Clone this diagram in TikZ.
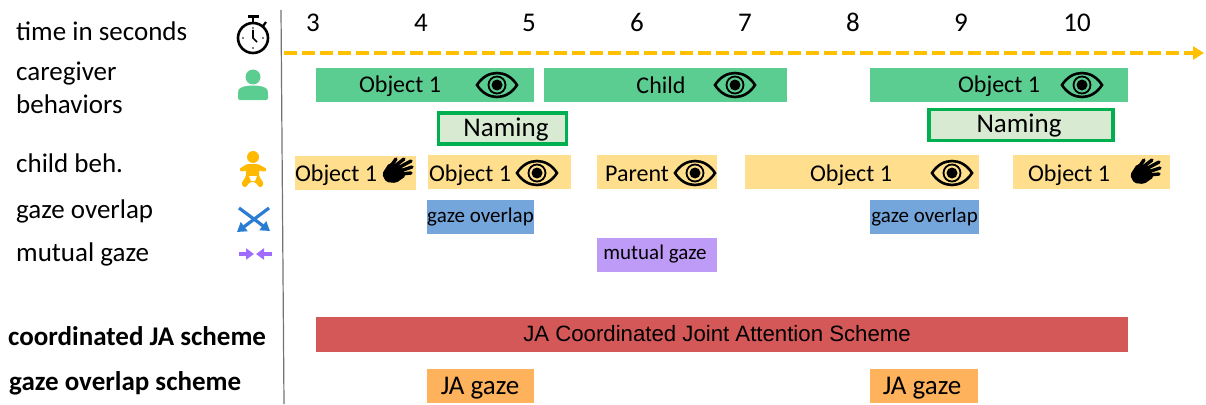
\documentclass[tikz,border=0pt]{standalone}
\usepackage{fontspec}
\setmainfont{Carlito}
\newfontfamily\arialfont{Liberation Sans}
\usetikzlibrary{arrows.meta}

\definecolor{caregreen}{HTML}{5BCD90}
\definecolor{namegreen}{HTML}{00B050}
\definecolor{namefill}{HTML}{D9EAD3}
\definecolor{childyellow}{HTML}{FFDF8E}
\definecolor{babyyellow}{HTML}{FFB900}
\definecolor{axisyellow}{HTML}{FFC000}
\definecolor{overlapblue}{HTML}{74A6DC}
\definecolor{crossblue}{HTML}{2B7CD3}
\definecolor{mutualpurple}{HTML}{BF9BF8}
\definecolor{arrowpurple}{HTML}{A06BFF}
\definecolor{schemered}{HTML}{D55858}
\definecolor{gazeorange}{HTML}{FFB25C}

\tikzset{
	bar/.style={anchor=west, inner sep=0pt, text depth=0pt, minimum height=34pt, align=center},
	rowlabel/.style={anchor=west, inner sep=0pt, font=\fontsize{27}{30}\selectfont, align=left},
	schemelabel/.style={anchor=west, inner sep=0pt, font=\fontsize{27}{30}\selectfont\bfseries},
	timetick/.style={inner sep=0pt, text height=17pt, text depth=0pt, font=\fontsize{27}{30}\selectfont},
	bartext/.style={inner sep=0pt, font=\fontsize{24}{27}\selectfont},
	nametext/.style={inner sep=0pt, font=\fontsize{27}{30}\selectfont},
	smalltext/.style={inner sep=0pt, font=\fontsize{21}{24}\selectfont},
	eye/.pic={
		\draw[line width=2.6pt, fill=none] (-20,0) .. controls (-10,-16) and (10,-16) .. (20,0) .. controls (10,16) and (-10,16) .. (-20,0) -- cycle;
		\draw[line width=1.8pt] (0,0) circle (8.5);
		\fill (0,0) circle (5.5);
	},
	hand/.pic={
		\fill[rounded corners=2pt] (-16,4) -- (-9,-7) -- (2,-6) -- (8,6) -- (-2,13) -- (-12,12) -- cycle;
		\draw[line width=3.4pt, line cap=round] (-7,-4) -- (-2,-11);
		\draw[line width=3.4pt, line cap=round] (-3,-4) -- (6,-11);
		\draw[line width=3.4pt, line cap=round] (0,-2) -- (13,-9);
		\draw[line width=3.4pt, line cap=round] (2,1) -- (14,-3);
		\draw[line width=3.4pt, line cap=round] (3,4) -- (13,3);
	},
}

\begin{document}
\begin{tikzpicture}[x=1pt, y=-1pt]
	\useasboundingbox (0,0) rectangle (1206,404);

	% row labels
	\node[rowlabel] (time) at (16,31) {time in seconds};
	\node[rowlabel] (caregiver) at (16,88) {caregiver\\[3pt]behaviors};
	\node[rowlabel] (child) at (16,163) {child beh.};
	\node[rowlabel] (overlap) at (16,211) {gaze overlap};
	\node[rowlabel] (mutual) at (16,254) {mutual gaze};
	\node[schemelabel] (coordinated) at (8,336) {coordinated JA scheme};
	\node[schemelabel] (gazescheme) at (9,383) {gaze overlap scheme};

	% time axis
	\coordinate (top) at (281,10);
	\coordinate (bottom) at (284,404);
	\draw[line width=1.2pt, black!55] (top) -- (bottom);
	\coordinate (axisstart) at (284,53);
	\coordinate (axisend) at (1204,53);
	\draw[axisyellow, line width=3.6pt, dash pattern=on 13pt off 5pt, -{Triangle[length=11pt,width=13pt]}] (axisstart) -- (axisend);

	\foreach \t/\x in {3/313,4/421,5/529,6/637,7/745,8/853,9/961,10/1077}
		\node[timetick] (t\t) at (\x,23) {\t};

	% caregiver
	\node[bar, fill=caregreen, minimum width=218pt] (care1) at (316,84.5) {};
	\node[bartext] (care1text) at (400,86) {Object 1};
	\node[bar, fill=caregreen, minimum width=243pt] (care2) at (544,84.5) {};
	\node[bartext] (care2text) at (661,85) {Child};
	\node[bar, fill=caregreen, minimum width=258pt] (care3) at (870,84.5) {};
	\node[bartext] (care3text) at (999,86) {Object 1};
	\pic at (497,85) {eye};
	\pic at (735,85) {eye};
	\pic at (1082,85) {eye};

	% naming
	\node[bar, fill=namefill, draw=namegreen, line width=3.5pt, minimum width=128pt, minimum height=31pt] (name1) at (436.5,128.5) {};
	\node[nametext] (name1text) at (506,130) {Naming};
	\node[bar, fill=namefill, draw=namegreen, line width=3.5pt, minimum width=184pt, minimum height=31pt] (name2) at (927,125) {};
	\node[nametext] (name2text) at (1019,126) {Naming};

	% child
	\node[bar, fill=childyellow, minimum width=121pt] (kid1) at (295,172.5) {};
	\node[bartext] (kid1text) at (336,175) {Object 1};
	\node[bar, fill=childyellow, minimum width=143pt] (kid2) at (428,172) {};
	\node[bartext] (kid2text) at (470,175) {Object 1};
	\node[bar, fill=childyellow, minimum width=120pt] (kid3) at (597,172) {};
	\node[bartext] (kid3text) at (637,174) {Parent};
	\node[bar, fill=childyellow, minimum width=234pt] (kid4) at (745,172) {};
	\node[bartext] (kid4text) at (851,175) {Object 1};
	\node[bar, fill=childyellow, minimum width=157pt] (kid5) at (1013,172) {};
	\node[bartext] (kid5text) at (1069,175) {Object 1};
	\pic at (537,173) {eye};
	\pic at (695,173) {eye};
	\pic at (952,173) {eye};
	\pic at (398,170) {hand};
	\pic at (1146,171) {hand};

	% gaze overlap and mutual gaze
	\node[bar, fill=overlapblue, minimum width=107pt] (over1) at (427,216.5) {};
	\node[smalltext] (over1text) at (480.5,217) {gaze overlap};
	\node[bar, fill=overlapblue, minimum width=109pt] (over2) at (870,216.5) {};
	\node[smalltext] (over2text) at (924.5,217) {gaze overlap};
	\node[bar, fill=mutualpurple, minimum width=120pt] (mut1) at (597,255) {};
	\node[smalltext] (mut1text) at (655,254) {mutual gaze};

	% schemes
	\node[bar, fill=schemered, minimum width=812pt, minimum height=35pt] (ja) at (316,334.5) {};
	\node[inner sep=0pt, font=\arialfont\fontsize{22.2}{26}\selectfont] (jatext) at (717,334) {JA Coordinated Joint Attention Scheme};
	\node[bar, fill=gazeorange, minimum width=107pt] (ja1) at (427,386) {};
	\node[nametext] (ja1text) at (480,388) {JA gaze};
	\node[bar, fill=gazeorange, minimum width=108pt] (ja2) at (870,386) {};
	\node[nametext] (ja2text) at (922,388) {JA gaze};

	% clock
	\draw[line width=2.6pt] (253,38) circle (15);
	\draw[line width=2.6pt] (248,16.5) -- (259,16.5);
	\draw[line width=2.2pt] (253,16.5) -- (253,23);
	\draw[line width=2.2pt] (263,26) -- (266,22);
	\draw[line width=1.6pt] (253,30) -- (253,38) -- (257,42);
	\foreach \dx/\dy in {0/-10,-10/0,10/0,0/10}
		\fill (253+\dx,38+\dy) circle (0.9);

	% person
	\fill[caregreen] (253,77) circle (7.5);
	\fill[caregreen, rounded corners=2pt] (238,100) -- (238,92) .. controls (240,84) and (266,84) .. (268,92) -- (268,100) -- cycle;

	% baby
	\fill[babyyellow] (253,157) circle (6);
	\fill[babyyellow, rounded corners=1.5pt] (239,169) -- (247,164) -- (258,164) -- (267,169) -- (265,172) -- (259,170) -- (259,176) -- (264,184) -- (260,188) -- (255,182) -- (250,182) -- (245,188) -- (241,184) -- (246,176) -- (246,170) -- (241,172) -- cycle;
	\fill[white] (249,176) -- (257,176) -- (255,181) -- (251,181) -- cycle;

	% crossed arrows
	\draw[crossblue, line width=3.2pt, -{Triangle[length=9pt,width=11pt]}] (269,208) -- (237,232);
	\draw[crossblue, line width=3.2pt, -{Triangle[length=9pt,width=11pt]}] (239,208) -- (270,231);

	% facing arrows
	\draw[arrowpurple, line width=3.2pt, -{Triangle[length=8pt,width=11pt]}] (239,254) -- (254,254);
	\draw[arrowpurple, line width=3.2pt, -{Triangle[length=8pt,width=11pt]}] (272,254) -- (256,254);
\end{tikzpicture}
\end{document}
